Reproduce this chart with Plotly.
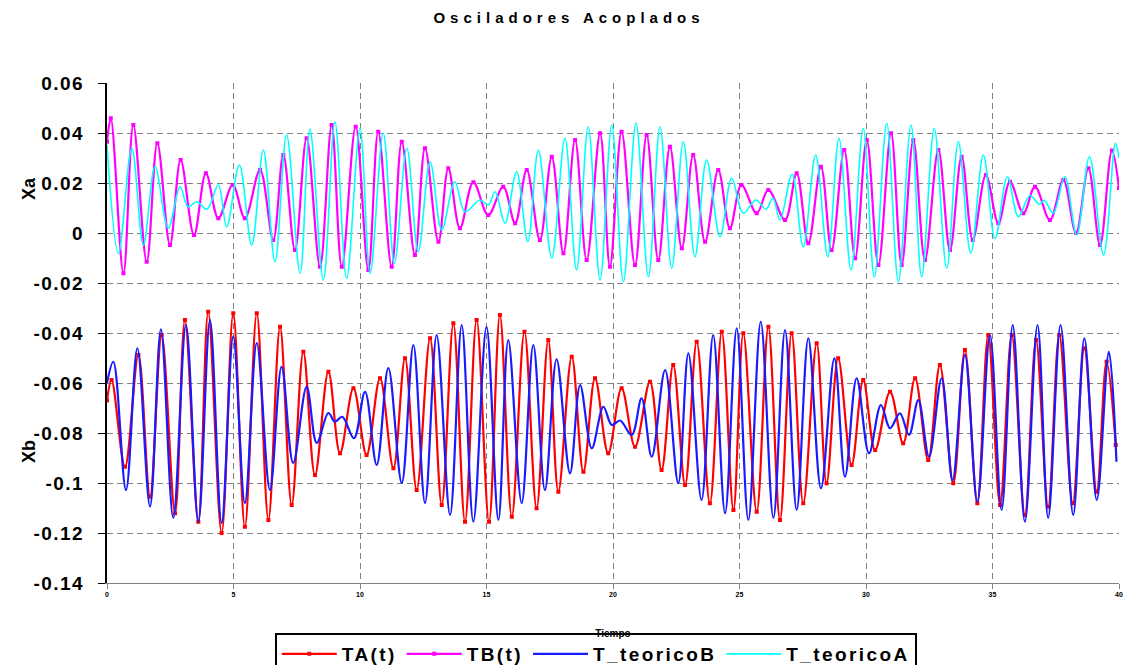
import plotly.graph_objects as go

# ---------------- data (extrema of each curve) ----------------
# TA(t)  (measured, red, Xb region)
ta_t = [0.0, 0.18, 0.71, 1.24, 1.70, 2.16, 2.69, 3.08, 3.61, 4.00, 4.53, 4.99, 5.45, 5.92, 6.38, 6.84,
        7.30, 7.76, 8.22, 8.75, 9.21, 9.74, 10.26, 10.79, 11.32, 11.78, 12.24, 12.77, 13.23, 13.69,
        14.15, 14.61, 15.10, 15.53, 16.00, 16.50, 16.98, 17.44, 17.84, 18.37, 18.83, 19.29, 19.81,
        20.34, 20.87, 21.46, 21.92, 22.38, 22.85, 23.31, 23.83, 24.30, 24.76, 25.15, 25.68, 26.14,
        26.60, 27.06, 27.52, 28.05, 28.44, 28.90, 29.43, 29.89, 30.36, 30.95, 31.47, 31.94, 32.46,
        32.92, 33.45, 33.91, 34.40, 34.83, 35.30, 35.76, 36.28, 36.72, 37.20, 37.64, 38.17, 38.63,
        39.12, 39.51, 39.87]
ta_x = [-0.0670, -0.0588, -0.0935, -0.0488, -0.1055, -0.0408, -0.1121, -0.0348, -0.1155, -0.0315,
        -0.1200, -0.0321, -0.1175, -0.0321, -0.1148, -0.0375, -0.1088, -0.0475, -0.0968, -0.0555,
        -0.0881, -0.0621, -0.0888, -0.0581, -0.0941, -0.0501, -0.1028, -0.0421, -0.1088, -0.0361,
        -0.1155, -0.0348, -0.1155, -0.0328, -0.1135, -0.0395, -0.1101, -0.0428, -0.1035, -0.0495,
        -0.0955, -0.0581, -0.0881, -0.0621, -0.0855, -0.0595, -0.0948, -0.0528, -0.1008, -0.0435,
        -0.1081, -0.0395, -0.1108, -0.0401, -0.1115, -0.0375, -0.1148, -0.0401, -0.1081, -0.0441,
        -0.1001, -0.0501, -0.0928, -0.0588, -0.0868, -0.0635, -0.0841, -0.0581, -0.0908, -0.0528,
        -0.1001, -0.0468, -0.1081, -0.0408, -0.1088, -0.0408, -0.1128, -0.0428, -0.1095, -0.0408,
        -0.1081, -0.0461, -0.1035, -0.0515, -0.0848]

# TB(t)  (measured, magenta, Xa region)
tb_t = [0.0, 0.15, 0.65, 1.04, 1.57, 1.99, 2.49, 2.91, 3.44, 3.91, 4.40, 4.97, 5.45, 6.05, 6.57, 6.97,
        7.43, 7.89, 8.42, 8.88, 9.28, 9.83, 10.33, 10.72, 11.25, 11.65, 12.17, 12.57, 13.10, 13.49,
        13.95, 14.48, 15.07, 15.66, 16.13, 16.59, 17.11, 17.58, 18.04, 18.50, 18.96, 19.49, 19.88,
        20.34, 20.87, 21.33, 21.79, 22.25, 22.72, 23.17, 23.64, 24.16, 24.62, 25.08, 25.68, 26.14,
        26.80, 27.26, 27.72, 28.22, 28.64, 29.14, 29.57, 30.03, 30.49, 30.99, 31.41, 31.87, 32.33,
        32.86, 33.32, 33.78, 34.22, 34.74, 35.23, 35.69, 36.22, 36.68, 37.27, 37.80, 38.30, 38.79,
        39.25, 39.72, 40.0]
tb_x = [0.0365, 0.0459, -0.0161, 0.0432, -0.0115, 0.0359, -0.0048, 0.0292, -0.0008, 0.0239, 0.0059,
        0.0192, 0.0059, 0.0252, -0.0028, 0.0312, -0.0068, 0.0379, -0.0135, 0.0432, -0.0135, 0.0425,
        -0.0148, 0.0405, -0.0135, 0.0365, -0.0088, 0.0339, -0.0035, 0.0259, 0.0019, 0.0203, 0.0072,
        0.0185, 0.0039, 0.0252, -0.0028, 0.0305, -0.0081, 0.0372, -0.0108, 0.0399, -0.0135, 0.0405,
        -0.0128, 0.0392, -0.0108, 0.0345, -0.0061, 0.0312, -0.0035, 0.0252, 0.0019, 0.0192, 0.0079,
        0.0172, 0.0052, 0.0239, -0.0041, 0.0265, -0.0068, 0.0332, -0.0101, 0.0372, -0.0128, 0.0399,
        -0.0128, 0.0372, -0.0108, 0.0332, -0.0068, 0.0305, -0.0028, 0.0232, 0.0039, 0.0205, 0.0079,
        0.0185, 0.0052, 0.0212, 0.0000, 0.0259, -0.0048, 0.0330, 0.0180]

# T_teoricoB  (theory, blue, Xb region)
tcb_t = [0.0, 0.25, 0.75, 1.20, 1.70, 2.13, 2.62, 3.12, 3.61, 4.07, 4.53, 4.99, 5.45, 5.92, 6.44, 6.90,
         7.36, 7.89, 8.29, 8.75, 9.01, 9.30, 9.76, 10.20, 10.66, 11.12, 11.65, 12.11, 12.57, 13.03,
         13.56, 14.02, 14.48, 15.00, 15.47, 15.86, 16.39, 16.85, 17.31, 17.77, 18.30, 18.70, 19.16,
         19.62, 19.95, 20.28, 20.74, 21.13, 21.53, 22.06, 22.58, 22.98, 23.50, 23.96, 24.43, 24.89,
         25.35, 25.84, 26.34, 26.80, 27.26, 27.72, 28.22, 28.75, 29.17, 29.63, 30.12, 30.59, 30.95,
         31.34, 31.70, 32.07, 32.49, 32.99, 33.42, 33.91, 34.40, 34.90, 35.36, 35.80, 36.28, 36.78,
         37.20, 37.69, 38.19, 38.63, 39.12, 39.60, 39.90]
tcb_x = [-0.0600, -0.0515, -0.1028, -0.0461, -0.1095, -0.0385, -0.1140, -0.0368, -0.1155, -0.0348,
         -0.1160, -0.0413, -0.1080, -0.0440, -0.1028, -0.0535, -0.0920, -0.0615, -0.0840, -0.0720,
         -0.0755, -0.0735, -0.0821, -0.0635, -0.0928, -0.0540, -0.1000, -0.0448, -0.1080, -0.0408,
         -0.1128, -0.0368, -0.1155, -0.0375, -0.1148, -0.0428, -0.1080, -0.0448, -0.1028, -0.0505,
         -0.0961, -0.0608, -0.0861, -0.0695, -0.0768, -0.0750, -0.0808, -0.0661, -0.0895, -0.0548,
         -0.1001, -0.0481, -0.1068, -0.0408, -0.1121, -0.0381, -0.1148, -0.0355, -0.1140, -0.0388,
         -0.1108, -0.0421, -0.1021, -0.0501, -0.0975, -0.0581, -0.0881, -0.0688, -0.0781, -0.0721,
         -0.0808, -0.0668, -0.0895, -0.0581, -0.0990, -0.0488, -0.1075, -0.0408, -0.1108, -0.0368,
         -0.1155, -0.0368, -0.1140, -0.0368, -0.1128, -0.0421, -0.1068, -0.0475, -0.0915]

# T_teoricoA  (theory, cyan, Xa region)
tca_t = [0.0, 0.45, 0.98, 1.44, 1.90, 2.42, 2.89, 3.20, 3.55, 3.95, 4.40, 4.73, 5.23, 5.72, 6.18, 6.64,
         7.10, 7.63, 8.02, 8.55, 9.01, 9.47, 10.00, 10.40, 10.92, 11.36, 11.85, 12.30, 12.77, 13.23,
         13.75, 14.15, 14.74, 15.07, 15.34, 15.73, 16.19, 16.63, 17.05, 17.58, 18.10, 18.56, 19.02,
         19.49, 19.95, 20.41, 20.91, 21.40, 21.86, 22.32, 22.78, 23.24, 23.70, 24.23, 24.69, 25.15,
         25.65, 26.05, 26.32, 26.60, 27.08, 27.52, 28.01, 28.49, 28.93, 29.41, 29.89, 30.33, 30.82,
         31.28, 31.78, 32.20, 32.70, 33.19, 33.65, 34.14, 34.64, 35.10, 35.59, 36.02, 36.48, 36.85,
         37.05, 37.40, 37.86, 38.33, 38.83, 39.39, 39.86, 40.0]
tca_x = [0.0350, -0.0081, 0.0339, -0.0048, 0.0265, 0.0019, 0.0185, 0.0105, 0.0125, 0.0095, 0.0192,
         0.0025, 0.0272, -0.0048, 0.0332, -0.0115, 0.0392, -0.0161, 0.0415, -0.0188, 0.0445, -0.0181,
         0.0419, -0.0161, 0.0399, -0.0121, 0.0339, -0.0075, 0.0285, 0.0012, 0.0205, 0.0085, 0.0132,
         0.0112, 0.0165, 0.0039, 0.0245, -0.0035, 0.0332, -0.0101, 0.0379, -0.0148, 0.0425, -0.0188,
         0.0432, -0.0195, 0.0439, -0.0175, 0.0425, -0.0141, 0.0365, -0.0095, 0.0292, -0.0015, 0.0219,
         0.0079, 0.0132, 0.0095, 0.0140, 0.0052, 0.0235, -0.0055, 0.0312, -0.0095, 0.0379, -0.0148,
         0.0419, -0.0175, 0.0439, -0.0195, 0.0432, -0.0175, 0.0419, -0.0141, 0.0365, -0.0081, 0.0312,
         -0.0021, 0.0225, 0.0065, 0.0150, 0.0115, 0.0130, 0.0079, 0.0225, -0.0008, 0.0305, -0.0088,
         0.0359, 0.0300]

# axis ticks
y_tickvals = [0.06, 0.04, 0.02, 0.0, -0.02, -0.04, -0.06, -0.08, -0.10, -0.12, -0.14]
y_ticktext = ["0.06", "0.04", "0.02", "0", "-0.02", "-0.04", "-0.06", "-0.08", "-0.1", "-0.12", "-0.14"]
x_tickvals = [0, 5, 10, 15, 20, 25, 30, 35, 40]
x_ticktext = ["0", "5", "10", "15", "20", "25", "30", "35", "40"]

title_text = "Osciladores Acoplados"
x_title = "Tiempo"
label_a = "Xa"
label_b = "Xb"
series_names = ["TA(t)", "TB(t)", "T_teoricoB", "T_teoricoA"]

# ---------------- figure ----------------
# The page body has an 8px default margin, so the figure is 8px smaller than the window.
W, H = 1123, 657
FONT = "Liberation Sans, Arial, sans-serif"


def spaced(s, px):
    return f'<span style="letter-spacing:{px}px">{s}</span>'


fig = go.Figure()
fig.add_trace(go.Scatter(x=ta_t, y=ta_x, name=spaced(series_names[0], 2.4), mode="lines+markers",
                         line=dict(color="#FF0000", width=2.2, shape="spline", smoothing=1.0),
                         marker=dict(color="#FF0000", size=4, symbol="square")))
fig.add_trace(go.Scatter(x=tb_t, y=tb_x, name=spaced(series_names[1], 2.4), mode="lines+markers",
                         line=dict(color="#FF00FF", width=2.2, shape="spline", smoothing=1.0),
                         marker=dict(color="#FF00FF", size=4, symbol="square")))
fig.add_trace(go.Scatter(x=tcb_t, y=tcb_x, name=spaced(series_names[2], 2.4), mode="lines",
                         line=dict(color="#1A1AFF", width=2.2, shape="spline", smoothing=1.0)))
fig.add_trace(go.Scatter(x=tca_t, y=tca_x, name=spaced(series_names[3], 2.4), mode="lines",
                         line=dict(color="#00FFFF", width=1.6, shape="spline", smoothing=1.0)))

grid = dict(showgrid=True, gridcolor="#808080", gridwidth=1, griddash="6px,4px")

fig.update_layout(
    width=W, height=H,
    margin=dict(l=99, r=12, t=75, b=82, autoexpand=False),
    paper_bgcolor="white", plot_bgcolor="white",
    font=dict(family=FONT, color="black"),
    showlegend=True,
    title=dict(text=spaced(title_text, 5), x=0.4996, xref="container", xanchor="center",
               y=1 - 10 / H, yref="container", yanchor="middle",
               font=dict(family=FONT, size=15, color="black", weight="bold")),
    xaxis=dict(range=[0, 40], tickvals=x_tickvals, ticktext=x_ticktext,
               tickfont=dict(size=7, family=FONT, weight="bold"),
               showline=True, linecolor="#808080", linewidth=1,
               ticks="outside", ticklen=5, tickcolor="#808080", zeroline=False,
               title=dict(text=x_title, standoff=32,
                          font=dict(family=FONT, size=10, weight="bold")),
               **grid),
    xaxis2=dict(range=[0, 40], overlaying="x", anchor="free", position=0.7, side="bottom",
                showline=True, linecolor="black", linewidth=2, showgrid=False, zeroline=False,
                ticks="outside", ticklen=4, tickcolor="black", tickwidth=1, dtick=1, tick0=0,
                showticklabels=False),
    yaxis=dict(range=[-0.14, 0.06], tickvals=y_tickvals,
               ticktext=[spaced(s, 1.5) for s in y_ticktext],
               tickfont=dict(size=19, family=FONT, weight="bold"),
               showline=True, linecolor="black", linewidth=2,
               ticks="outside", ticklen=7, tickcolor="black", ticklabelstandoff=10,
               zeroline=False, **grid),
    yaxis2=dict(range=[-0.14, 0.06], overlaying="y", side="right", showline=True,
                linecolor="#808080", linewidth=1, showgrid=False, zeroline=False,
                showticklabels=False, ticks=""),
    legend=dict(orientation="h", x=0.483, xanchor="center", y=-0.1, yanchor="top",
                bordercolor="black", borderwidth=2, bgcolor="white",
                font=dict(family=FONT, size=19, color="black", weight="bold"),
                itemwidth=55, traceorder="normal"),
    annotations=[
        dict(text=label_a, x=-0.0889, y=0.815, xref="paper", yref="paper", showarrow=False,
             textangle=-90, font=dict(family=FONT, size=18, weight="bold")),
        dict(text=label_b, x=-0.0889, y=0.235, xref="paper", yref="paper", showarrow=False,
             textangle=-90, font=dict(family=FONT, size=18, weight="bold")),
    ],
)

fig.write_html("out.html")
